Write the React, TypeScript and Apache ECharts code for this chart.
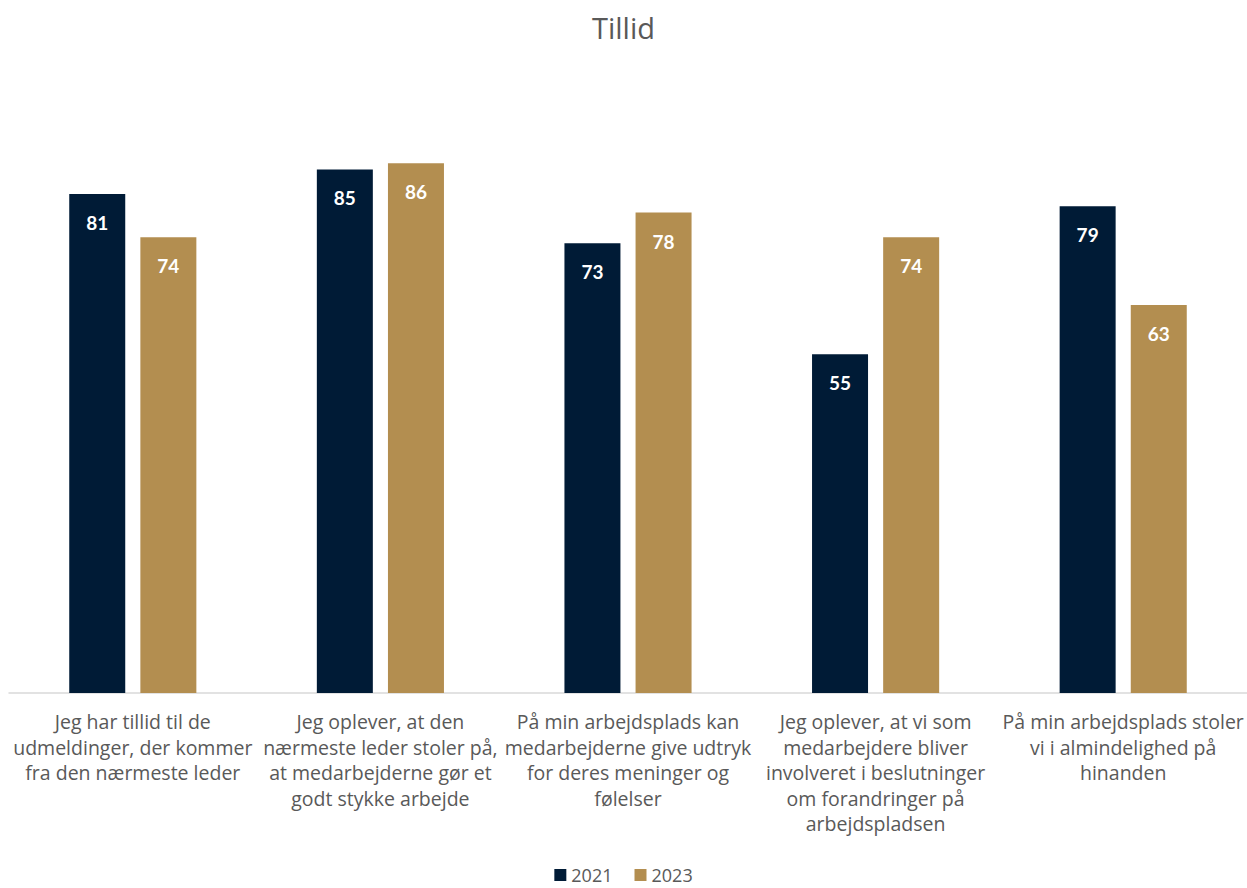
import React, { useEffect, useRef } from "react";
import * as echarts from "echarts";

const categories = [
  "Jeg har tillid til de\nudmeldinger, der kommer\nfra den nærmeste leder",
  "Jeg oplever, at den\nnærmeste leder stoler på,\nat medarbejderne gør et\ngodt stykke arbejde",
  "På min arbejdsplads kan\nmedarbejderne give udtryk\nfor deres meninger og\nfølelser",
  "Jeg oplever, at vi som\nmedarbejdere bliver\ninvolveret i beslutninger\nom forandringer på\narbejdspladsen",
  "På min arbejdsplads stoler\nvi i almindelighed på\nhinanden",
];
const values2021 = [81, 85, 73, 55, 79];
const values2023 = [74, 86, 78, 74, 63];
const seriesNames = ["2021", "2023"];

const FONT = "Lato, 'Liberation Sans', sans-serif";
const AXIS_FONT = "'Open Sans', 'Liberation Sans', sans-serif";

export default function App() {
  const ref = useRef<HTMLDivElement>(null);
  useEffect(() => {
    document.body.style.margin = "0";
    const chart = echarts.init(ref.current!, null, { renderer: "svg" });
    const label = {
      show: true,
      position: "insideTop",
      distance: 19,
      color: "#ffffff",
      fontWeight: "bold",
      fontSize: 19,
      fontFamily: FONT,
    };
    chart.setOption({
      animation: false,
      title: {
        text: "Tillid",
        left: "center",
        top: 8,
        textStyle: { fontSize: 29, fontWeight: "normal", color: "#595959", fontFamily: AXIS_FONT },
      },
      legend: {
        top: 860,
        left: "center",
        itemWidth: 12,
        itemHeight: 12,
        itemGap: 22,
        icon: "rect",
        textStyle: { fontSize: 18, lineHeight: 20, color: "#595959", fontFamily: AXIS_FONT },
        data: seriesNames,
      },
      grid: { left: 9, right: 0, top: 77, bottom: 195, containLabel: false },
      xAxis: {
        type: "category",
        data: categories,
        axisLine: { lineStyle: { color: "#d9d9d9", width: 1.5 } },
        axisTick: { show: false },
        axisLabel: {
          interval: 0,
          margin: 16,
          fontSize: 19.5,
          lineHeight: 25.5,
          color: "#595959",
          fontFamily: AXIS_FONT,
        },
      },
      yAxis: {
        type: "value",
        min: 0,
        max: 100,
        show: false,
        splitLine: { show: false },
      },
      series: [
        {
          name: seriesNames[0],
          type: "bar",
          data: values2021,
          barWidth: 56,
          barGap: "27%",
          itemStyle: { color: "#001B36" },
          label,
        },
        {
          name: seriesNames[1],
          type: "bar",
          data: values2023,
          barWidth: 56,
          barGap: "27%",
          itemStyle: { color: "#B38E50" },
          label,
        },
      ],
    });
    return () => chart.dispose();
  }, []);
  return <div ref={ref} style={{ width: 1247, height: 888 }} />;
}
